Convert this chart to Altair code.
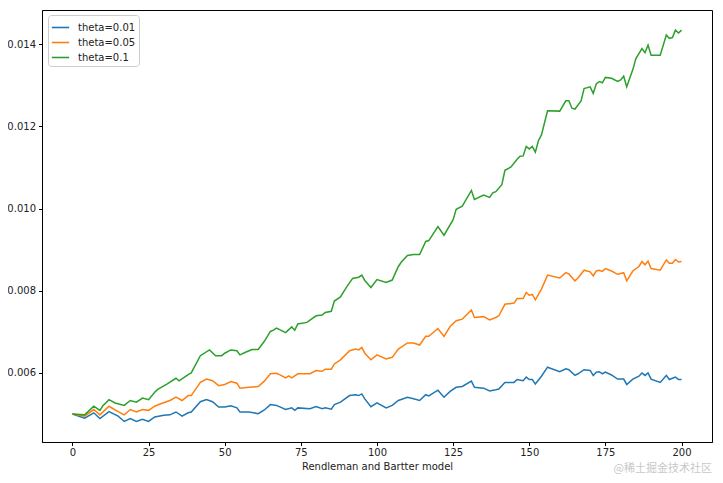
import altair as alt
import pandas as pd

# theta = 0.01
x_01 = [0, 4, 7, 9, 12, 15, 17, 19, 21, 23, 25, 27, 30, 32, 34, 36, 38, 39, 42, 44, 46, 48, 50, 52, 54, 55, 58, 61, 63, 65, 67, 70, 72, 73, 74, 78, 80, 82, 83, 85, 86, 88, 91, 93, 94, 95, 96, 98, 100, 103, 105, 107, 110, 112, 114, 116, 117, 120, 122, 124, 126, 128, 131, 132, 135, 137, 139, 140, 142, 145, 146, 148, 149, 150, 151, 152, 154, 156, 160, 162, 163, 165, 166, 168, 170, 171, 172, 173, 174, 175, 177, 179, 181, 182, 184, 186, 187, 188, 189, 190, 193, 195, 196, 197, 198, 199, 200]
y_01 = [0.00500, 0.00490, 0.00503, 0.00489, 0.00506, 0.00495, 0.00482, 0.00489, 0.00482, 0.00487, 0.00482, 0.00493, 0.00497, 0.00498, 0.00505, 0.00495, 0.00503, 0.00505, 0.00530, 0.00535, 0.00530, 0.00517, 0.00517, 0.00520, 0.00515, 0.00505, 0.00505, 0.00501, 0.00510, 0.00523, 0.00521, 0.00511, 0.00515, 0.00509, 0.00515, 0.00513, 0.00518, 0.00513, 0.00515, 0.00512, 0.00523, 0.00529, 0.00545, 0.00547, 0.00545, 0.00549, 0.00537, 0.00518, 0.00527, 0.00515, 0.00521, 0.00533, 0.00541, 0.00537, 0.00533, 0.00547, 0.00544, 0.00558, 0.00541, 0.00555, 0.00565, 0.00567, 0.00580, 0.00565, 0.00563, 0.00556, 0.00559, 0.00561, 0.00577, 0.00577, 0.00584, 0.00581, 0.00590, 0.00584, 0.00584, 0.00573, 0.00592, 0.00614, 0.00603, 0.00610, 0.00608, 0.00594, 0.00598, 0.00608, 0.00606, 0.00594, 0.00602, 0.00603, 0.00598, 0.00602, 0.00595, 0.00585, 0.00585, 0.00572, 0.00585, 0.00592, 0.00600, 0.00594, 0.00600, 0.00585, 0.00577, 0.00594, 0.00584, 0.00587, 0.00590, 0.00584, 0.00584]

# theta = 0.05
x_05 = [0, 4, 7, 9, 12, 15, 17, 19, 21, 23, 25, 27, 29, 32, 34, 36, 38, 39, 42, 44, 46, 48, 50, 52, 54, 55, 58, 61, 63, 65, 67, 68, 70, 71, 72, 74, 78, 80, 82, 83, 85, 86, 88, 91, 93, 94, 95, 96, 98, 100, 103, 105, 107, 110, 112, 114, 116, 117, 120, 122, 124, 126, 128, 131, 132, 135, 137, 139, 140, 142, 145, 146, 148, 149, 150, 151, 152, 154, 156, 160, 162, 163, 165, 166, 168, 170, 171, 172, 173, 174, 175, 177, 179, 181, 182, 184, 186, 187, 188, 189, 190, 193, 195, 196, 197, 198, 199, 200]
y_05 = [0.00500, 0.00495, 0.00511, 0.00498, 0.00519, 0.00506, 0.00498, 0.00511, 0.00505, 0.00511, 0.00509, 0.00519, 0.00525, 0.00533, 0.00541, 0.00533, 0.00545, 0.00545, 0.00577, 0.00585, 0.00581, 0.00569, 0.00572, 0.00579, 0.00575, 0.00563, 0.00565, 0.00567, 0.00580, 0.00598, 0.00599, 0.00596, 0.00588, 0.00593, 0.00588, 0.00598, 0.00598, 0.00606, 0.00604, 0.00609, 0.00609, 0.00622, 0.00632, 0.00654, 0.00658, 0.00656, 0.00662, 0.00648, 0.00632, 0.00644, 0.00634, 0.00638, 0.00658, 0.00673, 0.00673, 0.00668, 0.00689, 0.00689, 0.00708, 0.00689, 0.00713, 0.00727, 0.00731, 0.00753, 0.00735, 0.00737, 0.00729, 0.00735, 0.00739, 0.00767, 0.00770, 0.00781, 0.00781, 0.00796, 0.00789, 0.00791, 0.00778, 0.00804, 0.00838, 0.00831, 0.00844, 0.00841, 0.00824, 0.00831, 0.00850, 0.00846, 0.00836, 0.00848, 0.00850, 0.00847, 0.00854, 0.00848, 0.00840, 0.00844, 0.00824, 0.00848, 0.00859, 0.00871, 0.00863, 0.00872, 0.00854, 0.00850, 0.00875, 0.00867, 0.00867, 0.00876, 0.00870, 0.00871]

# theta = 0.1
x_10 = [0, 4, 7, 9, 10, 12, 14, 17, 19, 21, 23, 25, 27, 28, 31, 34, 35, 38, 39, 42, 45, 47, 49, 50, 52, 54, 55, 57, 59, 61, 63, 65, 66, 67, 70, 72, 73, 74, 77, 80, 82, 83, 85, 86, 88, 90, 92, 94, 95, 96, 98, 100, 103, 105, 107, 108, 110, 112, 114, 116, 117, 120, 122, 125, 126, 128, 131, 132, 135, 137, 138, 139, 141, 142, 144, 146, 147, 148, 149, 150, 151, 152, 153, 154, 156, 160, 162, 163, 164, 165, 167, 168, 170, 171, 172, 173, 174, 175, 177, 179, 180, 181, 182, 184, 185, 187, 188, 189, 190, 193, 195, 196, 197, 198, 199, 200]
y_10 = [0.00500, 0.00498, 0.00519, 0.00509, 0.00520, 0.00535, 0.00527, 0.00521, 0.00533, 0.00529, 0.00539, 0.00535, 0.00553, 0.00560, 0.00573, 0.00587, 0.00581, 0.00596, 0.00600, 0.00642, 0.00656, 0.00642, 0.00642, 0.00648, 0.00656, 0.00654, 0.00644, 0.00651, 0.00657, 0.00657, 0.00677, 0.00701, 0.00704, 0.00709, 0.00698, 0.00712, 0.00704, 0.00719, 0.00723, 0.00739, 0.00741, 0.00747, 0.00750, 0.00775, 0.00785, 0.00809, 0.00830, 0.00833, 0.00838, 0.00825, 0.00808, 0.00827, 0.00820, 0.00826, 0.00859, 0.00870, 0.00886, 0.00888, 0.00888, 0.00920, 0.00922, 0.00956, 0.00935, 0.00973, 0.00998, 0.01006, 0.01044, 0.01022, 0.01033, 0.01027, 0.01038, 0.01041, 0.01058, 0.01093, 0.01101, 0.01120, 0.01127, 0.01128, 0.01151, 0.01145, 0.01151, 0.01137, 0.01165, 0.01179, 0.01238, 0.01237, 0.01262, 0.01262, 0.01244, 0.01242, 0.01262, 0.01292, 0.01296, 0.01280, 0.01303, 0.01309, 0.01306, 0.01319, 0.01317, 0.01309, 0.01313, 0.01322, 0.01296, 0.01338, 0.01365, 0.01389, 0.01379, 0.01398, 0.01373, 0.01373, 0.01422, 0.01414, 0.01416, 0.01434, 0.01427, 0.01434]

series_names = ["theta=0.01", "theta=0.05", "theta=0.1"]
series_colors = ["#1f77b4", "#ff7f0e", "#2ca02c"]
x_ticks = [0, 25, 50, 75, 100, 125, 150, 175, 200]
y_ticks = [0.006, 0.008, 0.010, 0.012, 0.014]

frames = []
for name, xs, ys in zip(series_names, [x_01, x_05, x_10], [y_01, y_05, y_10]):
    frames.append(pd.DataFrame({"step": xs, "value": ys, "series": name}))
df = pd.concat(frames, ignore_index=True)

lines = alt.Chart(df).mark_line(strokeWidth=1.5).encode(
    x=alt.X("step:Q",
            scale=alt.Scale(domain=[-10, 210], nice=False, zero=False),
            axis=alt.Axis(values=x_ticks, format="d", title="Rendleman and Bartter model",
                          labelPadding=2)),
    y=alt.Y("value:Q",
            scale=alt.Scale(domain=[0.00432, 0.01483], nice=False, zero=False),
            axis=alt.Axis(values=y_ticks, format=".3f", title=None)),
    color=alt.Color("series:N",
                    scale=alt.Scale(domain=series_names, range=series_colors),
                    legend=alt.Legend(title=None, orient="none", legendX=6, legendY=5,
                                      symbolType="stroke", symbolSize=300, symbolStrokeWidth=1.6,
                                      labelFontSize=10, labelFont="DejaVu Sans", labelColor="#222",
                                      strokeColor="#cccccc", fillColor="white", padding=3,
                                      cornerRadius=3, rowPadding=0, labelOffset=8)),
    order=alt.Order("step:Q"),
)

watermark = alt.Chart(pd.DataFrame({"t": ["@稀土掘金技术社区"]})).mark_text(
    align="right", baseline="bottom", fontSize=11, color="#c8c8c8",
    font="Noto Sans CJK SC"
).encode(x=alt.value(670), y=alt.value(464), text="t:N")

chart = alt.layer(lines, watermark).properties(
    width=670, height=432,
    padding={"left": 34, "top": 2, "right": 3, "bottom": 33},
    autosize=alt.AutoSizeParams(type="none"),
).configure_view(
    stroke="#000000", strokeWidth=1
).configure_axis(
    grid=False, domainColor="#000000", tickColor="#000000", tickSize=3.5,
    labelFont="DejaVu Sans", labelFontSize=10, labelColor="#222",
    titleFont="DejaVu Sans", titleFontSize=10, titleFontWeight="normal", titleColor="#222",
    labelPadding=3, titlePadding=4,
)

chart.save("out.html", embed_options={"renderer": "svg", "actions": False})
